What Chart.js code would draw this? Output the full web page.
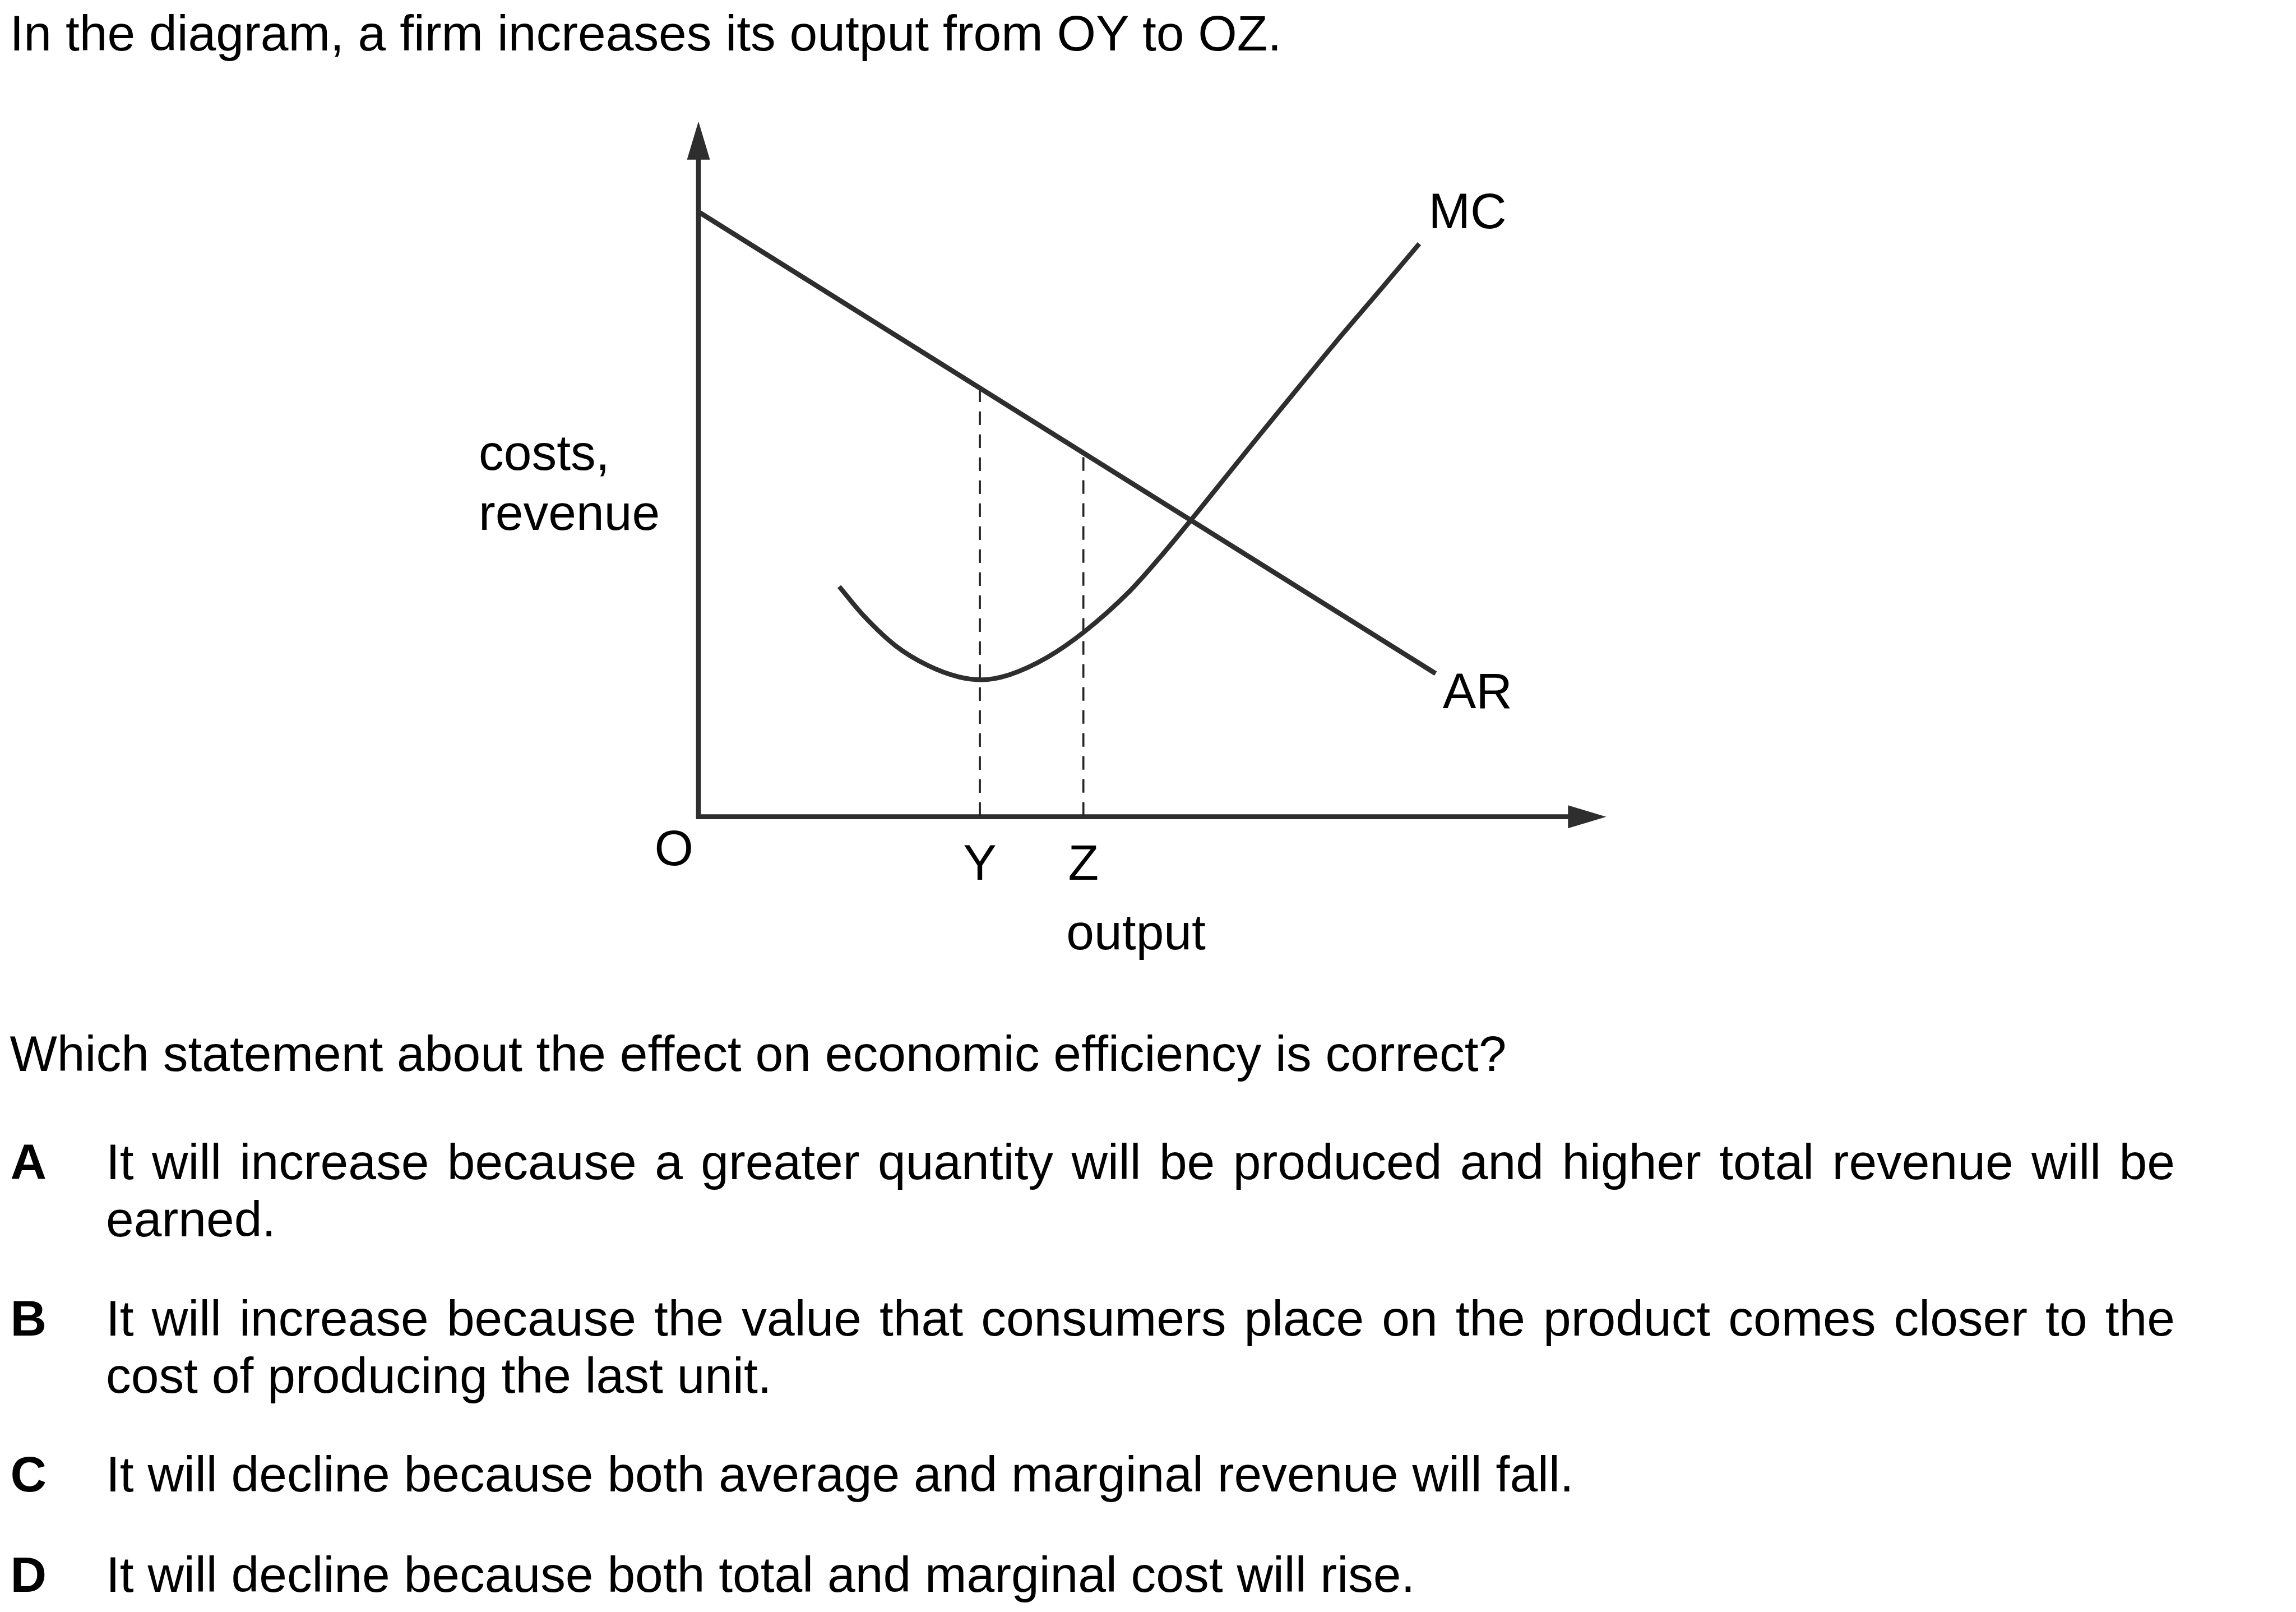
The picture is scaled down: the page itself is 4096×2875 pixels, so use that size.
<!DOCTYPE html>
<html>
<head>
<meta charset="utf-8">
<script src="https://cdn.jsdelivr.net/npm/chart.js@4.4.1/dist/chart.umd.min.js"></script>
<style>
  html, body { margin: 0; padding: 0; background: #fff; overflow: hidden; }
  body { width: 4096px; height: 2875px; position: relative; font-family: "Liberation Sans", Arial, sans-serif; color: #000; }
  #wrap { position: absolute; left: 0; top: 0; width: 4096px; height: 2875px; }
  .t { position: absolute; font-size: 89.4px; line-height: 102.4px; white-space: nowrap; }
  .L { position: absolute; left: 18.5px; font-size: 89.4px; line-height: 102.4px; font-weight: bold; }
  .body { position: absolute; left: 189px; width: 3691px; font-size: 89.4px; line-height: 102.4px; text-align: justify; }
</style>
</head>
<body>
<div id="wrap"><canvas id="c"></canvas></div>

<div class="t" style="left:17.5px;top:7.6px">In the diagram, a firm increases its output from OY to OZ.</div>
<div class="t" style="left:17.5px;top:1828px">Which statement about the effect on economic efficiency is correct?</div>

<div class="L" style="top:2021px">A</div>
<div class="body" style="top:2021px">It will increase because a greater quantity will be produced and higher total revenue will be earned.</div>

<div class="L" style="top:2300px">B</div>
<div class="body" style="top:2300px">It will increase because the value that consumers place on the product comes closer to the cost of producing the last unit.</div>

<div class="L" style="top:2578px">C</div>
<div class="body" style="top:2578px">It will decline because both average and marginal revenue will fall.</div>

<div class="L" style="top:2757px">D</div>
<div class="body" style="top:2757px">It will decline because both total and marginal cost will rise.</div>

<script>
// ---- data (axis units: output 0..100, costs/revenue 0..100) ----
const arX = [0, 81.2];
const arY = [87.0, 20.6];

const mcX = [15.5, 18.2, 21.7, 25.2, 28.7, 31.2, 34.2, 38.4, 42.6, 47.4, 50.9, 54.4, 57.8, 62.0, 66.2, 70.3, 75.2, 79.4];
const mcY = [33.1, 28.9, 24.6, 21.8, 20.1, 19.7, 20.4, 22.9, 26.7, 32.3, 37.4, 42.9, 48.4, 55.2, 61.9, 68.4, 75.9, 82.4];

const dropX = [31.0, 42.4];       // outputs OY and OZ
const dropTop = [61.6, 51.7];     // top of dashed guide lines
const tickLabels = ['Y', 'Z'];
const curveLabels = ['MC', 'AR'];
const axisLabels = ['costs,', 'revenue', 'output', 'O'];

const S = 0.975;
const LINE = '#2e2e2e';
const FONT = '89.4px "Liberation Sans", Arial, sans-serif';

const pts = (xs, ys) => xs.map((x, i) => ({ x: x, y: ys[i] }));

const datasets = [
  { label: 'AR', data: pts(arX, arY), borderColor: LINE, borderWidth: 8.8, pointRadius: 0, showLine: true, clip: false, borderCapStyle: 'butt' },
  { label: 'MC', data: pts(mcX, mcY), borderColor: LINE, borderWidth: 8.4, pointRadius: 0, showLine: true, clip: false, cubicInterpolationMode: 'monotone', borderCapStyle: 'butt' }
];
dropX.forEach((x, i) => {
  datasets.push({ label: 'drop' + tickLabels[i], data: [{ x: x, y: dropTop[i] }, { x: x, y: 0 }], borderColor: '#222', borderWidth: 3.6, borderDash: [24.4, 16.6], pointRadius: 0, showLine: true, clip: false });
});

const axesPlugin = {
  id: 'axesAndLabels',
  beforeDatasetsDraw(chart) {
    const ctx = chart.ctx;
    const xs = chart.scales.x, ys = chart.scales.y;
    const ox = xs.getPixelForValue(0), oy = ys.getPixelForValue(0);
    const xTip = xs.getPixelForValue(xs.max), yTip = ys.getPixelForValue(ys.max);
    const ah = 70 * S, hw = 21 * S;
    ctx.save();
    ctx.strokeStyle = LINE; ctx.fillStyle = LINE;
    ctx.lineWidth = 9 * S; ctx.lineJoin = 'miter'; ctx.lineCap = 'butt';
    ctx.beginPath();
    ctx.moveTo(ox, yTip + ah - 1);
    ctx.lineTo(ox, oy);
    ctx.lineTo(xTip - ah + 1, oy);
    ctx.stroke();
    // arrow heads
    ctx.beginPath();
    ctx.moveTo(ox, yTip); ctx.lineTo(ox - hw, yTip + ah); ctx.lineTo(ox + hw, yTip + ah); ctx.closePath(); ctx.fill();
    ctx.beginPath();
    ctx.moveTo(xTip, oy); ctx.lineTo(xTip - ah, oy - hw); ctx.lineTo(xTip - ah, oy + hw); ctx.closePath(); ctx.fill();
    ctx.restore();
  },
  afterDatasetsDraw(chart) {
    const ctx = chart.ctx;
    const xs = chart.scales.x, ys = chart.scales.y;
    const ox = xs.getPixelForValue(0), oy = ys.getPixelForValue(0);
    ctx.save();
    ctx.fillStyle = '#000';
    ctx.font = FONT;
    ctx.textBaseline = 'alphabetic';
    // tick labels at OY, OZ
    ctx.textAlign = 'center';
    dropX.forEach((x, i) => ctx.fillText(tickLabels[i], xs.getPixelForValue(x), oy + 115 * S));
    ctx.fillText(axisLabels[3], ox - 45 * S, oy + 89 * S);
    ctx.fillText(axisLabels[2], xs.getPixelForValue(48.2), oy + 242 * S);
    // axis title (y)
    ctx.textAlign = 'left';
    ctx.fillText(axisLabels[0], ox - 402 * S, ys.getPixelForValue(50.5) + 8);
    ctx.fillText(axisLabels[1], ox - 402 * S, ys.getPixelForValue(41.9) + 8);
    // curve labels near line ends
    const mcEnd = { x: xs.getPixelForValue(mcX[mcX.length - 1]), y: ys.getPixelForValue(mcY[mcY.length - 1]) };
    ctx.fillText(curveLabels[0], mcEnd.x + 17 * S, mcEnd.y - 28 * S);
    const arEnd = { x: xs.getPixelForValue(arX[1]), y: ys.getPixelForValue(arY[1]) };
    ctx.fillText(curveLabels[1], arEnd.x + 13 * S, arEnd.y + 63 * S);
    ctx.restore();
  }
};

new Chart(document.getElementById('c'), {
  type: 'scatter',
  data: { datasets: datasets },
  options: {
    responsive: true,
    maintainAspectRatio: false,
    devicePixelRatio: 1,
    animation: false,
    events: [],
    layout: { padding: { left: 1278 * S, right: 4096 - 2939 * S, top: 222 * S, bottom: 2875 - 1494 * S } },
    plugins: { legend: { display: false }, tooltip: { enabled: false } },
    scales: {
      x: { type: 'linear', min: 0, max: 100, display: false },
      y: { type: 'linear', min: 0, max: 100, display: false }
    }
  },
  plugins: [axesPlugin]
});
</script>
</body>
</html>
